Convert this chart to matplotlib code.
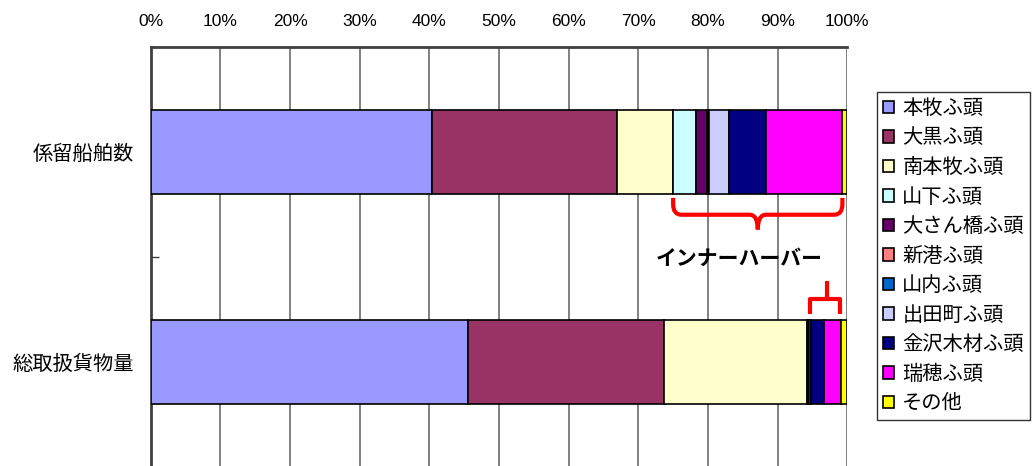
import matplotlib
matplotlib.use("Agg")
import matplotlib.pyplot as plt
from matplotlib.path import Path
from matplotlib.patches import PathPatch
import numpy as np

plt.rcParams['font.family'] = ['Noto Sans CJK JP', 'DejaVu Sans']

categories = ["係留船舶数", "総取扱貨物量"]
series_names = ["本牧ふ頭", "大黒ふ頭", "南本牧ふ頭", "山下ふ頭", "大さん橋ふ頭", "新港ふ頭",
                "山内ふ頭", "出田町ふ頭", "金沢木材ふ頭", "瑞穂ふ頭", "その他"]
mooring = [40.4, 26.5, 8.1, 3.3, 1.6, 0.1, 0.2, 2.8, 5.4, 10.9, 0.7]
cargo = [45.6, 28.1, 20.5, 0.15, 0.05, 0.05, 0.1, 0.3, 1.75, 2.5, 0.9]
colors = ["#9999FF", "#993366", "#FFFFCC", "#CCFFFF", "#660066", "#FF8080",
          "#0066CC", "#CCCCFF", "#000080", "#FF00FF", "#FFFF00"]
xticks = list(range(0, 101, 10))
xtick_labels = [f"{v}%" for v in xticks]
inner_label = "インナーハーバー"

fig = plt.figure(figsize=(10.33, 4.66), dpi=100)
ax = fig.add_axes([0.1459, -0.002, 0.6743, 0.902])

data = np.array([mooring, cargo])
ypos = np.arange(len(categories))
left = np.zeros(len(categories))
handles = []
for i, name in enumerate(series_names):
    h = ax.barh(ypos, data[:, i], left=left, height=0.4, color=colors[i],
                edgecolor="black", linewidth=1.2, label=name, zorder=3)
    handles.append(h)
    left = left + data[:, i]

ax.set_xlim(0, 100)
ax.set_ylim(1.5, -0.5)
ax.xaxis.tick_top()
ax.set_xticks(xticks)
ax.set_xticklabels(xtick_labels, fontsize=12.5, family=['Liberation Sans', 'DejaVu Sans'])
ax.tick_params(axis='x', length=0, pad=13)
ax.set_yticks(ypos)
ax.set_yticklabels(categories, fontsize=14.6)
ax.tick_params(axis='y', length=0, pad=12)
ax.set_yticks([0.5], minor=True)
ax.tick_params(axis='y', which='minor', direction='in', length=6, width=1, color='#404040')
ax.grid(axis='x', color='#808080', linewidth=1.4, zorder=0)
ax.set_axisbelow(True)
for s in ['right', 'bottom']:
    ax.spines[s].set_visible(False)
for s in ['left', 'top']:
    ax.spines[s].set_color('#404040')
    ax.spines[s].set_linewidth(2)

# brace under top bar (inner harbor: 山下 .. 瑞穂)
cum_top = np.concatenate([[0], np.cumsum(mooring)])
cum_bot = np.concatenate([[0], np.cumsum(cargo)])
x0, x1 = cum_top[3], cum_top[10]
xm = (x0 + x1) / 2
y0 = 0.22
yh = 0.3
r = 1.2
ry = 0.05


def half(xa, xb, sgn):
    v = [(xa, y0), (xa, yh - ry), (xa, yh), (xa + sgn * r, yh), (xb - sgn * r, yh), (xb, yh), (xb, yh + 0.07)]
    c = [Path.MOVETO, Path.LINETO, Path.CURVE3, Path.CURVE3, Path.LINETO, Path.CURVE3, Path.CURVE3]
    return v, c


v1, c1 = half(x0, xm, 1)
v2, c2 = half(x1, xm, -1)
ax.add_patch(PathPatch(Path(v1 + v2, c1 + c2), fill=False, edgecolor='red', linewidth=3,
                       capstyle='butt', zorder=5, clip_on=False))
ax.text(xm - 2.7, 0.505, inner_label, ha='center', va='center', fontsize=15, fontweight='bold', zorder=6)

# small bracket above bottom bar
b0, b1 = cum_bot[3], cum_bot[10]
bm = (b0 + b1) / 2 + 0.4
yb = 0.77
yt = 0.7
verts2 = [(b0 + 0.5, yb), (b0 + 0.5, yt), (b1 - 0.2, yt), (b1 - 0.2, yb),
          (bm, yt), (bm, yt - 0.085)]
codes2 = [Path.MOVETO, Path.LINETO, Path.LINETO, Path.LINETO, Path.MOVETO, Path.LINETO]
ax.add_patch(PathPatch(Path(verts2, codes2), fill=False, edgecolor='red', linewidth=3,
                       joinstyle='round', zorder=5, clip_on=False))

leg = fig.legend(handles=handles, labels=series_names, loc='upper left',
                 bbox_to_anchor=(877 / 1033, 1 - 92 / 466), fontsize=14.6,
                 frameon=True, fancybox=False, edgecolor='black', handlelength=0.55,
                 handleheight=0.55, handletextpad=0.4, labelspacing=0.42, borderpad=0.3,
                 borderaxespad=0)
leg.get_frame().set_linewidth(1)

fig.savefig("out.png", dpi=100)
